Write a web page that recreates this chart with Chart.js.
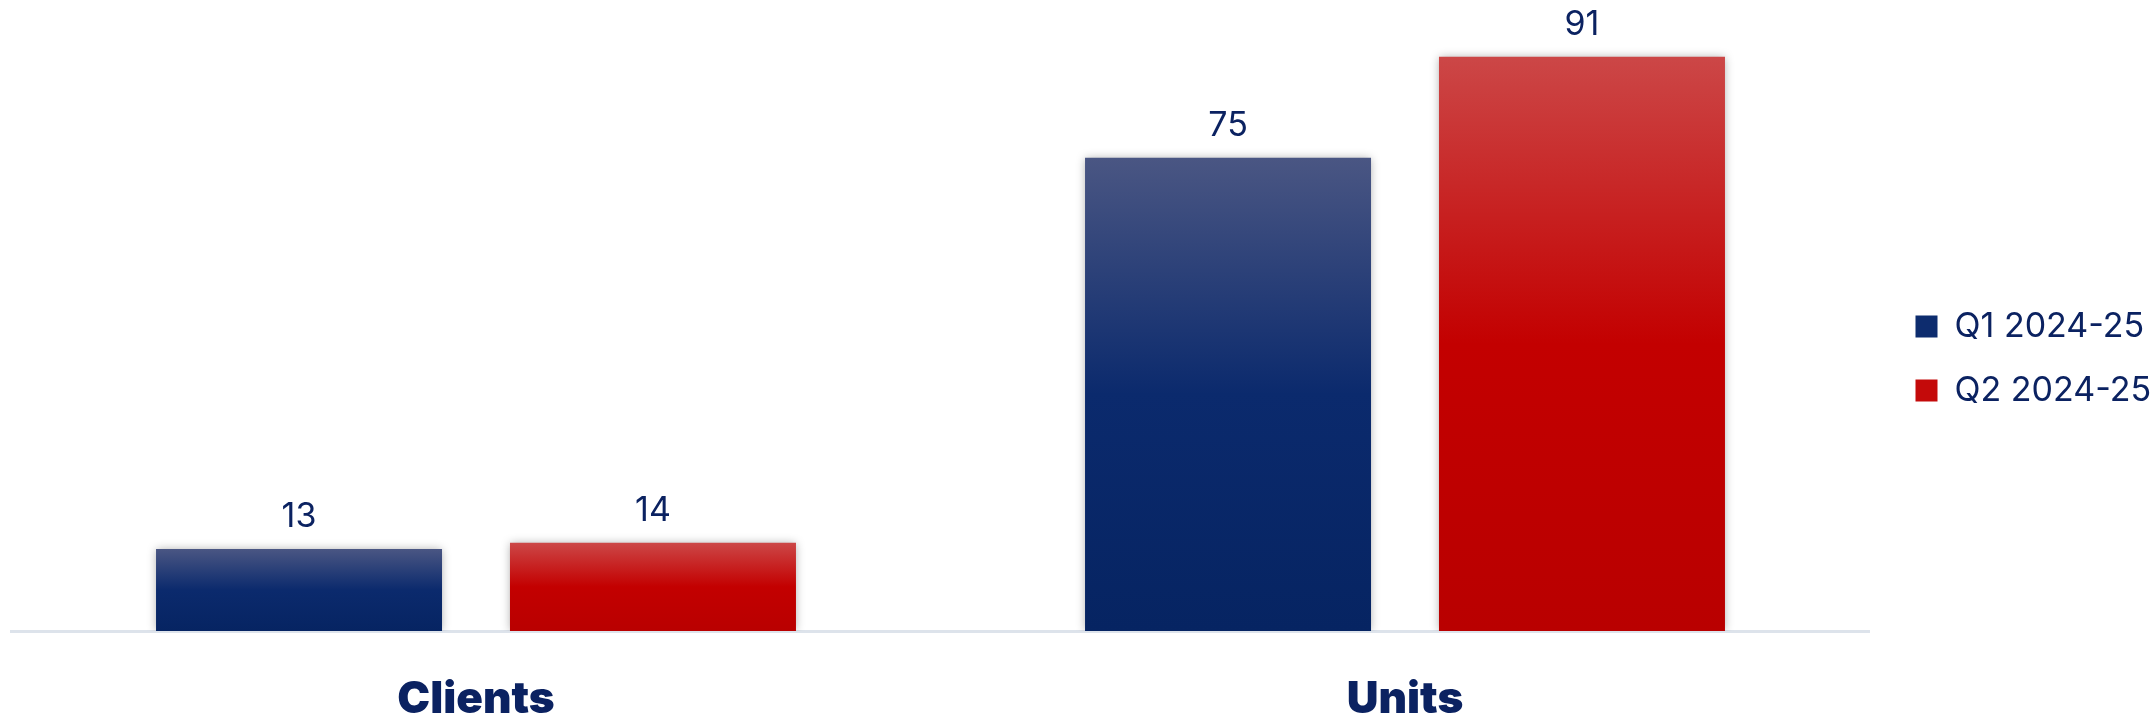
<!DOCTYPE html>
<html>
<head>
<meta charset="utf-8">
<script src="https://cdn.jsdelivr.net/npm/chart.js@4.4.1/dist/chart.umd.min.js"></script>
<style>
  html, body { margin: 0; padding: 0; background: #ffffff; }
  #wrap { width: 2155px; height: 719px; position: relative; }
</style>
</head>
<body>
<div id="wrap"><canvas id="chart"></canvas></div>
<script>
// ---- data ----
const categories = ['Clients', 'Units'];
const seriesNames = ['Q1 2024-25', 'Q2 2024-25'];
const q1Values = [13, 75];
const q2Values = [14, 91];
const yMin = 0;
const yMax = 100;

// ---- style ----
const NAVY_TEXT = '#0b2261';
const FONT = "Inter, 'Open Sans', 'DejaVu Sans', sans-serif";
const q1Stops = ['#4a5683', '#0b2a6d', '#062462'];
const q2Stops = ['#cc4747', '#c30000', '#b90000'];
const q1Solid = '#0d2c6e';
const q2Solid = '#c40a0a';

function barGradient(stops, solid) {
  return (c) => {
    const chart = c.chart;
    const ys = chart.scales && chart.scales.y;
    if (!ys || c.raw == null || c.type !== 'data') return solid;
    const top = ys.getPixelForValue(c.raw);
    const base = ys.getPixelForValue(0);
    if (!isFinite(top) || !isFinite(base) || top === base) return solid;
    const g = chart.ctx.createLinearGradient(0, top, 0, base);
    g.addColorStop(0, stops[0]);
    g.addColorStop(0.5, stops[1]);
    g.addColorStop(1, stops[2]);
    return g;
  };
}

const shadowAndLabels = {
  id: 'shadowAndLabels',
  beforeDatasetsDraw(chart) {
    const ctx = chart.ctx;
    ctx.save();
    ctx.shadowColor = 'rgba(0,0,0,0.33)';
    ctx.shadowBlur = 9;
    ctx.shadowOffsetX = 0;
    ctx.shadowOffsetY = 0;
  },
  afterDatasetsDraw(chart) {
    const ctx = chart.ctx;
    ctx.restore();
    ctx.save();
    ctx.fillStyle = NAVY_TEXT;
    ctx.font = `400 34px ${FONT}`;
    ctx.textAlign = 'center';
    ctx.textBaseline = 'alphabetic';
    chart.data.datasets.forEach((ds, di) => {
      const meta = chart.getDatasetMeta(di);
      meta.data.forEach((el, i) => {
        ctx.fillText(String(ds.data[i]), el.x, el.y - 22);
      });
    });
    ctx.restore();
  }
};

const targetRight = 1869.5;
const LEG_PAD = 46;
const LEG_LINE = 18;

const chart = new Chart(document.getElementById('chart'), {
  type: 'bar',
  data: {
    labels: categories,
    datasets: [
      {
        label: seriesNames[0],
        data: q1Values,
        backgroundColor: barGradient(q1Stops, q1Solid),
        borderWidth: 0,
        categoryPercentage: 0.762,
        barPercentage: 0.808
      },
      {
        label: seriesNames[1],
        data: q2Values,
        backgroundColor: barGradient(q2Stops, q2Solid),
        borderWidth: 0,
        categoryPercentage: 0.762,
        barPercentage: 0.808
      }
    ]
  },
  options: {
    responsive: true,
    maintainAspectRatio: false,
    animation: false,
    layout: { padding: { left: 11.5, right: 30, top: 0, bottom: 0 } },
    plugins: {
      tooltip: { enabled: false },
      legend: {
        position: 'right',
        align: 'center',
        labels: {
          boxWidth: 22,
          boxHeight: 22,
          padding: LEG_PAD,
          color: NAVY_TEXT,
          font: { family: FONT, size: 34, weight: '400', lineHeight: LEG_LINE + 'px' },
          generateLabels(chart) {
            const items = Chart.defaults.plugins.legend.labels.generateLabels(chart);
            const solids = [q1Solid, q2Solid];
            return items.map((it, i) => Object.assign(it, {
              text: i === items.length - 1 ? [it.text, ''] : [it.text],
              fillStyle: solids[i],
              strokeStyle: solids[i],
              lineWidth: 0
            }));
          }
        }
      }
    },
    scales: {
      x: {
        grid: { display: false, drawTicks: false },
        border: { display: true, color: '#dde3eb', width: 3 },
        ticks: {
          color: NAVY_TEXT,
          padding: 47,
          font: { family: FONT, size: 44, weight: '900', lineHeight: 1 }
        },
        afterFit(scale) { scale.height = 88; }
      },
      y: {
        display: false,
        min: yMin,
        max: yMax,
        grid: { display: false }
      }
    }
  },
  plugins: [shadowAndLabels]
});

// fine-tune right padding so the plot area ends where the reference's axis ends
const delta = targetRight - chart.chartArea.right;
if (Math.abs(delta) > 0.25) {
  chart.options.layout.padding.right -= delta;
  chart.update();
}
</script>
</body>
</html>
